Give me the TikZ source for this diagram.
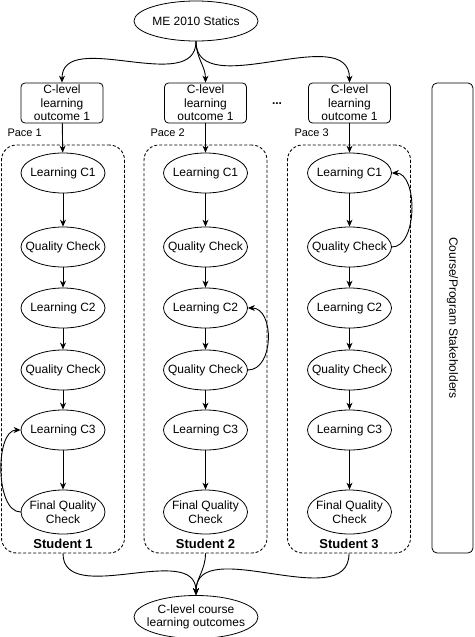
\documentclass[tikz,border=0pt]{standalone}
\usepackage{fontspec}
\setmainfont{Liberation Sans}
\usetikzlibrary{arrows.meta, shapes.geometric}

\begin{document}
\begin{tikzpicture}[
            x=1pt, y=-1pt,
            >={Stealth[length=7pt,width=6pt]},
            line cap=round,
            every node/.style={font=\fontsize{12}{13.5}\selectfont},
            stage/.style={draw, ellipse, line width=0.8pt, minimum width=84pt, minimum height=40pt, inner xsep=-8pt, inner ysep=0pt, align=center},
            outcome/.style={draw, line width=0.8pt, rounded corners=4pt, minimum width=82pt, minimum height=40pt, inner sep=1pt, align=center},
            pacebox/.style={draw, line width=0.9pt, dash pattern=on 2.5pt off 2.5pt, rounded corners=15pt, minimum width=123pt, minimum height=408pt},
            pace label/.style={anchor=west, font=\fontsize{11}{13}\selectfont},
            student/.style={font=\fontsize{13}{15}\selectfont\bfseries},
            flow/.style={->, line width=0.9pt},
        ]
        \useasboundingbox (0,0) rectangle (474,637);

        % course and outcomes
        \node[stage, minimum width=124pt] (me) at (196,21) {ME 2010 Statics};
        \node[outcome] (o1) at (62,103) {C-level\\learning\\outcome 1};
        \node[outcome] (o2) at (205.5,103) {C-level\\learning\\outcome 1};
        \node[outcome] (o3) at (349.5,103) {C-level\\learning\\outcome 1};
        \node[font=\fontsize{12}{14}\selectfont\bfseries] (dots) at (277,104) {...};

        \node[pace label] (p1) at (4,133) {Pace 1};
        \node[pace label] (p2) at (147,133) {Pace 2};
        \node[pace label] (p3) at (291,133) {Pace 3};

        % students
        \node[pacebox] (s1) at (63,349) {};
        \node[pacebox] (s2) at (205.5,349) {};
        \node[pacebox] (s3) at (349,349) {};
        \node[student] (n1) at (63,544) {Student 1};
        \node[student] (n2) at (205.5,544) {Student 2};
        \node[student] (n3) at (349,544) {Student 3};

        \node[stage] (c1a) at (63,173) {Learning C1};
        \node[stage] (q1a) at (63,247) {Quality Check};
        \node[stage] (c2a) at (63,308) {Learning C2};
        \node[stage] (q2a) at (63,370) {Quality Check};
        \node[stage] (c3a) at (63,430) {Learning C3};
        \node[stage, minimum height=44pt] (fqa) at (63,512) {Final Quality\\Check};

        \node[stage] (c1b) at (205.5,173) {Learning C1};
        \node[stage] (q1b) at (205.5,247) {Quality Check};
        \node[stage] (c2b) at (205.5,308) {Learning C2};
        \node[stage] (q2b) at (205.5,370) {Quality Check};
        \node[stage] (c3b) at (205.5,430) {Learning C3};
        \node[stage, minimum height=44pt] (fqb) at (205.5,512) {Final Quality\\Check};

        \node[stage] (c1c) at (349.5,173) {Learning C1};
        \node[stage] (q1c) at (349.5,247) {Quality Check};
        \node[stage] (c2c) at (349.5,308) {Learning C2};
        \node[stage] (q2c) at (349.5,370) {Quality Check};
        \node[stage] (c3c) at (349.5,430) {Learning C3};
        \node[stage, minimum height=44pt] (fqc) at (349.5,512) {Final Quality\\Check};

        \node[stage, minimum width=124pt, minimum height=43pt] (final) at (196,617) {C-level course\\learning outcomes};

        \node[draw, line width=0.8pt, rounded corners=5pt, rotate=-90, minimum width=470pt, minimum height=41pt] (stake) at (452.5,318) {Course/Program Stakeholders};

        % connectors
        \draw[flow] (me.south) to[out=-90, in=90] (o1.north);
        \draw[flow] (me.south) to[out=-90, in=90] (o2.north);
        \draw[flow] (me.south) to[out=-90, in=90] (o3.north);

        \draw[flow] (o1) -- (c1a);
        \draw[flow] (c1a) -- (q1a);
        \draw[flow] (q1a) -- (c2a);
        \draw[flow] (c2a) -- (q2a);
        \draw[flow] (q2a) -- (c3a);
        \draw[flow] (c3a) -- (fqa);
        \draw[flow] (fqa.west) to[out=180, in=180, looseness=0.8] (c3a.west);

        \draw[flow] (o2) -- (c1b);
        \draw[flow] (c1b) -- (q1b);
        \draw[flow] (q1b) -- (c2b);
        \draw[flow] (c2b) -- (q2b);
        \draw[flow] (q2b) -- (c3b);
        \draw[flow] (c3b) -- (fqb);
        \draw[flow] (q2b.east) to[out=0, in=0, looseness=1.1] (c2b.east);

        \draw[flow] (o3) -- (c1c);
        \draw[flow] (c1c) -- (q1c);
        \draw[flow] (q1c) -- (c2c);
        \draw[flow] (c2c) -- (q2c);
        \draw[flow] (q2c) -- (c3c);
        \draw[flow] (c3c) -- (fqc);
        \draw[flow] (q1c.east) to[out=0, in=0, looseness=0.9] (c1c.east);

        \draw[flow] (s1.south) to[out=-90, in=90] (final.north);
        \draw[flow] (s2.south) to[out=-90, in=90] (final.north);
        \draw[flow] (s3.south) to[out=-90, in=90] (final.north);
\end{tikzpicture}
\end{document}
